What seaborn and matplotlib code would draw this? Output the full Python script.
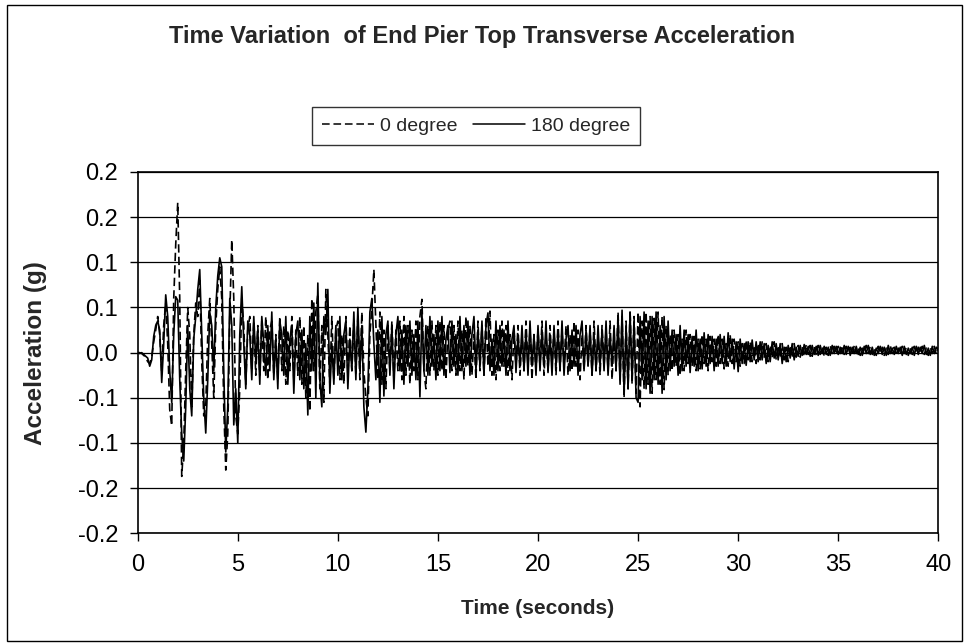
import numpy as np
import pandas as pd
import matplotlib
matplotlib.use("Agg")
import matplotlib.pyplot as plt
import seaborn as sns

# Sampling interval of the recorded response (seconds)
dt = 0.1

# Pier-top transverse acceleration, milli-g, 10 samples per second (0.0 s .. 40.0 s)
accel_0deg_mg = [
    0, 0, -1, -3, -5, -10, -12, -5, 12, 25,
    40, 20, -20, 30, 55, 10, -63, -81, 60, 120,
    166, 60, -137, -100, -20, 50, 20, -60, 20, 55,
    40, 80, -10, -70, -60, 20, 60, 10, -50, 30,
    70, 95, 60, -60, -130, -90, 40, 125, 60, -70,
    -90, -40, 60, 30, -35, 25, 40, -20, 35, -25,
    30, -25, 35, -20, 40, -30, 25, 35, -25, 20,
    -30, 40, -20, 30, -35, 25, -20, 40, -30, 25,
    -25, 40, -35, 30, -50, 20, -65, 60, -20, 45,
    65, -40, 30, -55, 70, 20, -35, 40, -30, 25,
    35, -30, 20, -35, 40, -25, 30, -20, 35, -25,
    40, -30, 45, -20, -50, -70, 20, 50, 92, 30,
    -30, 45, -35, 25, -40, 30, -20, 35, -30, 25,
    -20, 35, -30, 40, -25, 30, -35, 25, -20, 35,
    -30, 40, 59, -20, -40, 30, -25, 35, -20, 30,
    -25, 35, -20, 30, -30, 25, 35, -20, 30, -25,
    35, -20, 25, -30, 40, -15, 30, -25, 20, -30,
    35, -20, 30, -25, 40, -15, 46, -25, 20, -30,
    25, -20, 35, -15, 30, -25, 20, -30, 25, -15,
    30, -25, 20, -20, 35, -15, 25, -30, 20, -20,
    25, -15, 35, -25, 20, -20, 30, -15, 25, -25,
    35, -20, 25, -15, 30, -25, 20, -20, 35, -15,
    25, -30, 20, -20, 30, -15, 25, -25, 35, -20,
    20, -25, 30, -15, 25, -20, 35, -30, 20, -20,
    45, -30, 40, -50, 35, -40, 47, -35, 40, -45,
    45, -60, 35, -40, 45, -35, 40, -45, 38, -30,
    45, -35, 40, -41, 30, -25, 20, -20, 25, -15,
    20, -25, 15, -20, 25, -12, 20, -15, 18, -20,
    15, -18, 20, -12, 15, -20, 18, -10, 15, -15,
    20, -12, 15, -18, 10, -15, 20, -12, 15, -10,
    12, -15, 10, -12, 14, -8, 12, -10, 8, -12,
    10, -8, 12, -6, 10, -10, 8, -6, 12, -8,
    8, -6, 10, -8, 6, -10, 8, -6, 10, -5,
    8, -5, 7, -4, 9, -2, 8, -4, 7, -3,
    8, -2, 7, -4, 6, -3, 8, -1, 7, -2,
    7, -1, 8, -2, 7, 0, 6, -3, 8, -1,
    6, -3, 5, -2, 8, -1, 7, -2, 5, -3,
    7, -1, 6, -3, 5, -2, 8, -1, 6, -3,
    5, -2, 7, -1, 6, -3, 5, -2, 7, -1,
    6, -1, 7, -2, 5, -3, 6, -1, 7, -2,
    6,
]

accel_180deg_mg = [
    0, -1, 0, -2, -4, -6, -15, -8, 18, 30,
    35, 25, -33, 10, 64, 40, -20, -55, 20, 62,
    58, -30, -90, -120, -60, 30, -40, -70, 15, 40,
    70, 92, 20, -50, -89, -30, 45, 30, -20, 50,
    85, 105, 95, -20, -110, -60, 60, 30, -80, -40,
    -100, 20, 73, 10, -40, 35, 20, -30, 40, -10,
    25, -35, 40, 10, -25, 30, -20, 45, -30, 15,
    -40, 35, 20, -25, 40, -35, 15, 30, -45, 20,
    35, -30, 25, -40, 10, -69, 40, -20, 55, -50,
    77, -30, -60, 40, 20, 70, -45, 10, -35, 30,
    -25, 40, -30, 20, 35, -40, 15, -20, 45, -30,
    50, -20, 30, -60, -88, -40, 45, 60, 10, -30,
    25, -55, 40, -48, 20, 35, -25, 30, -40, 20,
    40, -20, 25, -35, 30, -15, 35, -25, 20, -30,
    35, -49, 45, -20, 30, -25, 40, -15, 20, -30,
    35, -20, 40, -25, 15, 30, -22, 35, -15, 20,
    -25, 40, -20, 30, -15, 35, -25, 20, 40, -20,
    25, -15, 35, -25, 30, 44, -20, 15, -25, 35,
    -20, 30, -15, 25, -25, 35, -20, 15, 30, -22,
    20, -15, 30, -20, 25, -25, 35, -15, 20, -25,
    30, -20, 25, -15, 35, -22, 20, -25, 30, -15,
    25, -20, 35, -25, 15, 30, -20, 25, -15, 30,
    -25, 20, 35, -20, 25, -15, 30, -25, 20, -20,
    30, -15, 25, -20, 35, -25, 20, -15, 30, -20,
    40, -35, 47, -45, 30, -40, 45, -30, 35, -50,
    -55, 40, -30, 45, -40, 35, -45, 40, -30, 45,
    -35, 30, -45, 40, -30, 35, -20, 25, -15, 20,
    -25, 30, -20, 25, -15, 20, -22, 18, -15, 25,
    -20, 15, -18, 22, -15, 20, -12, 18, -20, 15,
    -15, 20, -12, 18, -15, 22, -10, 15, -18, 12,
    -21, 15, -12, 10, -14, 12, -10, 14, -8, 12,
    -10, 12, -8, 10, -12, 8, -10, 12, -6, 10,
    -8, 10, -12, 6, -10, 8, -6, 10, -8, 6,
    -4, 8, -3, 9, -2, 7, -4, 8, -2, 7,
    -3, 8, -1, 7, -2, 6, -3, 8, -1, 7,
    -2, 6, -1, 8, -2, 7, -3, 6, -1, 7,
    -2, 6, -3, 7, -1, 8, -2, 6, -3, 5,
    -1, 7, -2, 6, -3, 8, -1, 5, -2, 7,
    -1, 6, -3, 7, -2, 5, -1, 6, -3, 7,
    -2, 6, -1, 8, -2, 5, -3, 7, -1, 6,
    3,
]

case_labels = ["0 degree", "180 degree"]
x_ticks = [0, 5, 10, 15, 20, 25, 30, 35, 40]
y_ticks = [-0.20, -0.15, -0.10, -0.05, 0.00, 0.05, 0.10, 0.15, 0.20]
# one-decimal axis number format (0.05 steps shown rounded half away from zero)
y_tick_labels = ["-0.2", "-0.2", "-0.1", "-0.1", "0.0", "0.1", "0.1", "0.2", "0.2"]

time_s = np.arange(len(accel_0deg_mg)) * dt
df = pd.concat([
    pd.DataFrame({"Time": time_s, "Accel": np.array(accel_0deg_mg) / 1000.0, "Case": case_labels[0]}),
    pd.DataFrame({"Time": time_s, "Accel": np.array(accel_180deg_mg) / 1000.0, "Case": case_labels[1]}),
], ignore_index=True)

sns.set_theme(style="white")
plt.rcParams["font.family"] = ["Liberation Sans", "DejaVu Sans"]

W, H = 964, 644
fig = plt.figure(figsize=(W / 100, H / 100), dpi=100)
ax_left, ax_right, ax_top, ax_bottom = 137.7, 938.3, 172.0, 533.3
ax = fig.add_axes([ax_left / W, 1 - ax_bottom / H, (ax_right - ax_left) / W, (ax_bottom - ax_top) / H])

sns.lineplot(
    data=df, x="Time", y="Accel", hue="Case", style="Case",
    palette={case_labels[0]: "black", case_labels[1]: "black"},
    dashes={case_labels[0]: (5, 2.5), case_labels[1]: ""},
    linewidth=1.2, ax=ax, legend=False, estimator=None, sort=False,
)

ax.set_xlim(0, 40)
ax.set_ylim(-0.2, 0.2)
ax.set_xticks(x_ticks)
ax.set_yticks(y_ticks)
ax.set_xticklabels([str(t) for t in x_ticks])
ax.set_yticklabels(y_tick_labels)

ax.grid(axis="y", color="black", linewidth=0.9)
ax.grid(axis="x", visible=False)
for side in ["left", "bottom", "top", "right"]:
    ax.spines[side].set_visible(True)
    ax.spines[side].set_color("black")
    ax.spines[side].set_linewidth(1.2)
ax.tick_params(axis="both", which="major", direction="out", length=6, width=1,
               color="black", labelsize=17, labelcolor="black", left=True, bottom=True, pad=8)
ax.tick_params(axis="x", pad=9)

ax.set_xlabel("Time (seconds)", fontsize=15, fontweight="bold")
ax.set_ylabel("Acceleration (g)", fontsize=17.5, fontweight="bold")
ax.xaxis.label.set_verticalalignment("center")
ax.yaxis.label.set_verticalalignment("center")
ax.xaxis.set_label_coords(0.5, (ax_bottom - 609) / (ax_bottom - ax_top))
ax.yaxis.set_label_coords((35 - ax_left) / (ax_right - ax_left), 0.5)

fig.text(0.5, 1 - 37 / H, "Time Variation  of End Pier Top Transverse Acceleration",
         ha="center", va="center", fontsize=17, fontweight="bold")

handles = [
    plt.Line2D([], [], color="black", linewidth=1.1, dashes=(5, 2.5)),
    plt.Line2D([], [], color="black", linewidth=1.1),
]
leg = fig.legend(handles, case_labels, loc="center", ncol=2,
                 bbox_to_anchor=(476 / W, 1 - 126 / H), frameon=True, fancybox=False,
                 fontsize=14, handlelength=2.7, handletextpad=0.3, columnspacing=0.8,
                 borderpad=0.5)
leg.get_frame().set_edgecolor("black")
leg.get_frame().set_linewidth(1.0)

# outer chart border
fig.patches.append(plt.Rectangle((7 / W, 3 / H), 955 / W, 636 / H, transform=fig.transFigure,
                                 fill=False, edgecolor="black", linewidth=1.0))

fig.savefig("out.png", dpi=100)
